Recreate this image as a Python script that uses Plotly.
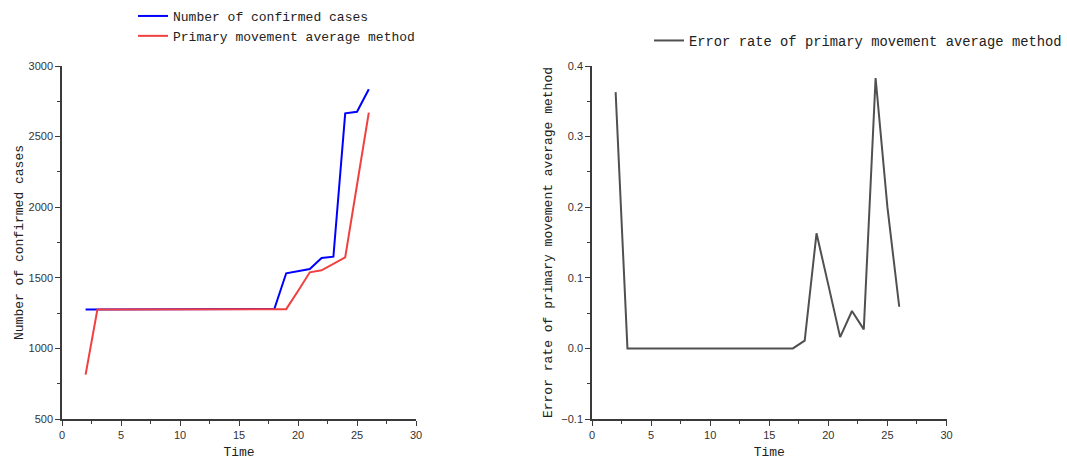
import plotly.graph_objects as go

time = list(range(2, 27))
confirmed = [1275]*16 + [1280, 1532, 1545, 1562, 1640, 1650, 2665, 2676, 2835]
moving_avg = [814] + [1275]*16 + [1278, 1406, 1539, 1553, 1601, 1645, 2157, 2670]
error_rate = [0.363] + [0.0]*15 + [0.011, 0.163, 0.09, 0.016, 0.053, 0.027, 0.383, 0.2, 0.059]

TITLE_FONT = dict(family="Liberation Mono, DejaVu Sans Mono, monospace", size=13, color="#222")
LEG2_FONT = dict(family="Liberation Mono, DejaVu Sans Mono, monospace", size=13.8, color="#222")
TICK_FONT = dict(family="Liberation Sans, Arial, sans-serif", size=11, color="#333")
AX = "#3a3a3a"

fig = go.Figure()
fig.add_trace(go.Scatter(x=time, y=confirmed, mode="lines", name="Number of confirmed cases",
                         line=dict(color="#0000FF", width=2), xaxis="x", yaxis="y", legend="legend"))
fig.add_trace(go.Scatter(x=time, y=moving_avg, mode="lines", name="Primary movement average method",
                         line=dict(color="#F04040", width=2), xaxis="x", yaxis="y", legend="legend"))
fig.add_trace(go.Scatter(x=time, y=error_rate, mode="lines", name="Error rate of primary movement average method",
                         line=dict(color="#505050", width=2), xaxis="x2", yaxis="y2", legend="legend2"))

def xax(domain, anchor):
    return dict(domain=domain, anchor=anchor, range=[0, 30], dtick=5, showline=True, linecolor=AX, linewidth=1.5,
                ticks="outside", ticklen=5, tickcolor=AX, tickfont=TICK_FONT, showgrid=False, zeroline=False,
                automargin=False,
                minor=dict(dtick=2.5, ticks="outside", ticklen=3, tickcolor=AX),
                title=dict(text="Time", font=TITLE_FONT, standoff=8))

def yax(domain, anchor, rng, dtick, mdtick, title, fmt=None, standoff=8):
    d = dict(domain=domain, anchor=anchor, range=rng, dtick=dtick, showline=True, linecolor=AX, linewidth=1.5,
             ticks="outside", ticklen=5, tickcolor=AX, tickfont=TICK_FONT, showgrid=False, zeroline=False,
             automargin=False,
             minor=dict(dtick=mdtick, ticks="outside", ticklen=3, tickcolor=AX),
             title=dict(text=title, font=TITLE_FONT, standoff=standoff))
    if fmt:
        d["tickformat"] = fmt
    return d

ydom = [41/460, 394/460]
fig.update_layout(
    width=1067, height=460, margin=dict(l=0, r=0, t=0, b=0),
    paper_bgcolor="white", plot_bgcolor="white",
    xaxis=xax([62/1067, 416/1067], "y"),
    yaxis=yax(ydom, "x", [500, 3000], 500, 250, "Number of confirmed cases", standoff=2),
    xaxis2=xax([592/1067, 946.5/1067], "y2"),
    yaxis2=yax(ydom, "x2", [-0.1, 0.4], 0.1, 0.05, "Error rate of primary movement average method", ".1f", standoff=6),
    legend=dict(x=133/1067, y=1 - 1/460, xanchor="left", yanchor="top", font=TITLE_FONT,
                bgcolor="rgba(0,0,0,0)", tracegroupgap=0, itemwidth=30),
    legend2=dict(x=649/1067, y=1 - 25/460, xanchor="left", yanchor="top", font=LEG2_FONT,
                 bgcolor="rgba(0,0,0,0)", itemwidth=30),
    showlegend=True,
)

fig.write_html("out.html")
